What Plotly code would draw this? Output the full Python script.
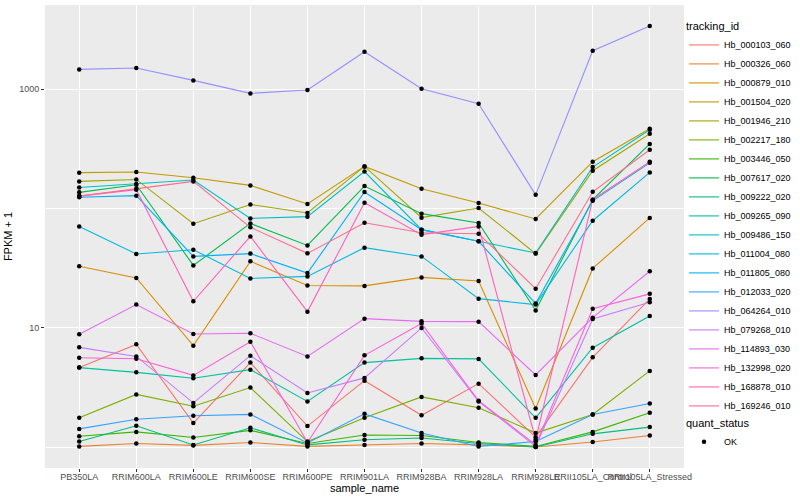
import plotly.graph_objects as go

samples = ["PB350LA", "RRIM600LA", "RRIM600LE", "RRIM600SE", "RRIM600PE", "RRIM901LA",
           "RRIM928BA", "RRIM928LA", "RRIM928LE", "RRII105LA_Control", "RRII105LA_Stressed"]

tracking_ids = ["Hb_000103_060", "Hb_000326_060", "Hb_000879_010", "Hb_001504_020", "Hb_001946_210",
                "Hb_002217_180", "Hb_003446_050", "Hb_007617_020", "Hb_009222_020", "Hb_009265_090",
                "Hb_009486_150", "Hb_011004_080", "Hb_011805_080", "Hb_012033_020", "Hb_064264_010",
                "Hb_079268_010", "Hb_114893_030", "Hb_132998_020", "Hb_168878_010", "Hb_169246_010"]

colors = ["#F8766D", "#EA8331", "#D89000", "#C09B00", "#A3A500", "#7CAE00", "#39B600", "#00BB4E",
          "#00BF7D", "#00C1A3", "#00BFC4", "#00BAE0", "#00B0F6", "#35A2FF", "#9590FF", "#C77CFF",
          "#E76BF3", "#FA62DB", "#FF62BC", "#FF6C91"]

# FPKM + 1 values, one list per tracking_id (in sample order)
Hb_000103_060 = [4.66, 7.29, 1.60, 5.13, 1.51, 3.62, 1.86, 3.42, 1.22, 5.68, 17.5]
Hb_000326_060 = [1.02, 1.08, 1.04, 1.10, 1.02, 1.05, 1.08, 1.05, 1.01, 1.11, 1.26]
Hb_000879_010 = [32.8, 26.2, 7.11, 36.1, 22.7, 22.5, 26.5, 24.7, 2.12, 31.5, 83.3]
Hb_001504_020 = [199.5, 202, 181, 156, 109, 225, 146.5, 111, 81.7, 246.5, 465]
Hb_001946_210 = [168.6, 175, 74.6, 108, 91.7, 225, 83.8, 101, 41.9, 207, 422]
Hb_002217_180 = [1.77, 2.78, 2.21, 3.17, 1.12, 1.77, 2.65, 2.15, 1.32, 1.89, 4.37]
Hb_003446_050 = [1.24, 1.35, 1.21, 1.39, 1.08, 1.27, 1.26, 1.10, 1.02, 1.35, 1.95]
Hb_007617_020 = [136.4, 158, 33.4, 75, 49.1, 154, 90.5, 75.6, 14.0, 118.5, 347]
Hb_009222_020 = [1.12, 1.52, 1.05, 1.46, 1.05, 1.16, 1.20, 1.08, 1.01, 1.30, 1.48]
Hb_009265_090 = [4.66, 4.25, 3.79, 4.48, 2.43, 5.13, 5.57, 5.51, 1.77, 6.84, 12.6]
Hb_009486_150 = [150, 160, 173, 82.6, 85.4, 204, 66.5, 53.1, 42.4, 222, 456]
Hb_011004_080 = [70.8, 41.6, 45.2, 26, 27, 47, 39.7, 17.6, 15.7, 79, 200.5]
Hb_011805_080 = [124, 128, 39.7, 41.9, 28.8, 137.5, 66.5, 53.1, 16.0, 116, 241]
Hb_012033_020 = [1.43, 1.72, 1.84, 1.89, 1.09, 1.91, 1.32, 1.02, 1.12, 1.89, 2.33]
Hb_064264_010 = [1459, 1500, 1180, 919, 981, 2051, 1006, 754, 130, 2092, 3366]
Hb_079268_010 = [6.88, 5.78, 2.36, 5.86, 2.86, 3.82, 10.0, 2.43, 1.02, 11.9, 16.4]
Hb_114893_030 = [8.84, 15.7, 8.91, 9.02, 5.78, 11.97, 11.36, 11.29, 4.04, 12.2, 29.8]
Hb_132998_020 = [5.64, 5.53, 4.01, 7.67, 1.10, 5.90, 10.9, 2.46, 1.05, 14.5, 19.3]
Hb_168878_010 = [127, 143.7, 16.7, 58.4, 13.7, 111.8, 60.4, 70.8, 1.16, 118.5, 246.5]
Hb_169246_010 = [127, 146.5, 168.6, 69.5, 42.1, 76, 62.7, 61.5, 21.3, 138, 310]

series = [Hb_000103_060, Hb_000326_060, Hb_000879_010, Hb_001504_020, Hb_001946_210,
          Hb_002217_180, Hb_003446_050, Hb_007617_020, Hb_009222_020, Hb_009265_090,
          Hb_009486_150, Hb_011004_080, Hb_011805_080, Hb_012033_020, Hb_064264_010,
          Hb_079268_010, Hb_114893_030, Hb_132998_020, Hb_168878_010, Hb_169246_010]

y_major = [10, 1000]
y_major_text = ["10", "1000"]
y_minor = [1, 100]

FONT = "Liberation Sans, Arial, sans-serif"

fig = go.Figure()
for name, vals, col in zip(tracking_ids, series, colors):
    fig.add_trace(go.Scatter(x=samples, y=vals, mode="lines", name=name,
                             line=dict(color=col, width=1.1), legend="legend"))

all_x, all_y = [], []
for vals in series:
    all_x += samples
    all_y += vals
fig.add_trace(go.Scatter(x=all_x, y=all_y, mode="markers", name="OK",
                         marker=dict(color="black", size=4.5, symbol="circle"),
                         legend="legend2", hoverinfo="skip"))

fig.update_layout(
    width=800, height=500,
    margin=dict(l=45, r=116, t=5, b=32, autoexpand=False),
    paper_bgcolor="white", plot_bgcolor="#EBEBEB",
    font=dict(family=FONT, color="#4D4D4D", size=9),
    xaxis=dict(type="category", range=[-0.6, 10.6], tickangle=0, automargin=False,
               showgrid=True, gridcolor="white", gridwidth=1.1,
               ticks="outside", ticklen=3, tickcolor="#333333",
               ticklabelstandoff=-3,
               tickfont=dict(size=9, color="#4D4D4D"),
               title=dict(text="sample_name", font=dict(size=11, color="black"), standoff=0),
               zeroline=False, showline=False),
    yaxis=dict(type="log", range=[-0.172, 3.703], automargin=False,
               tickmode="array", tickvals=y_major, ticktext=y_major_text,
               showgrid=True, gridcolor="white", gridwidth=1.1,
               minor=dict(tickmode="array", tickvals=y_minor, showgrid=True,
                          gridcolor="white", gridwidth=0.55, ticks=""),
               ticks="outside", ticklen=3, tickcolor="#333333",
               tickfont=dict(size=9, color="#4D4D4D"),
               title=dict(text="FPKM + 1", font=dict(size=11, color="black"), standoff=4),
               zeroline=False, showline=False),
    legend=dict(title=dict(text="tracking_id", font=dict(size=11, color="black")),
                x=1.0, xanchor="left", y=0.976, yanchor="top",
                font=dict(size=9, color="black"), bgcolor="rgba(0,0,0,0)",
                itemwidth=30, tracegroupgap=0),
    legend2=dict(title=dict(text="quant_status", font=dict(size=11, color="black")),
                 x=1.0, xanchor="left", y=0.119, yanchor="top",
                 font=dict(size=9, color="black"), bgcolor="rgba(0,0,0,0)",
                 itemwidth=30),
    showlegend=True,
)

fig.write_html("out.html", config={"displayModeBar": False},
               post_script="document.body.style.margin='0px';document.body.style.padding='0px';")
